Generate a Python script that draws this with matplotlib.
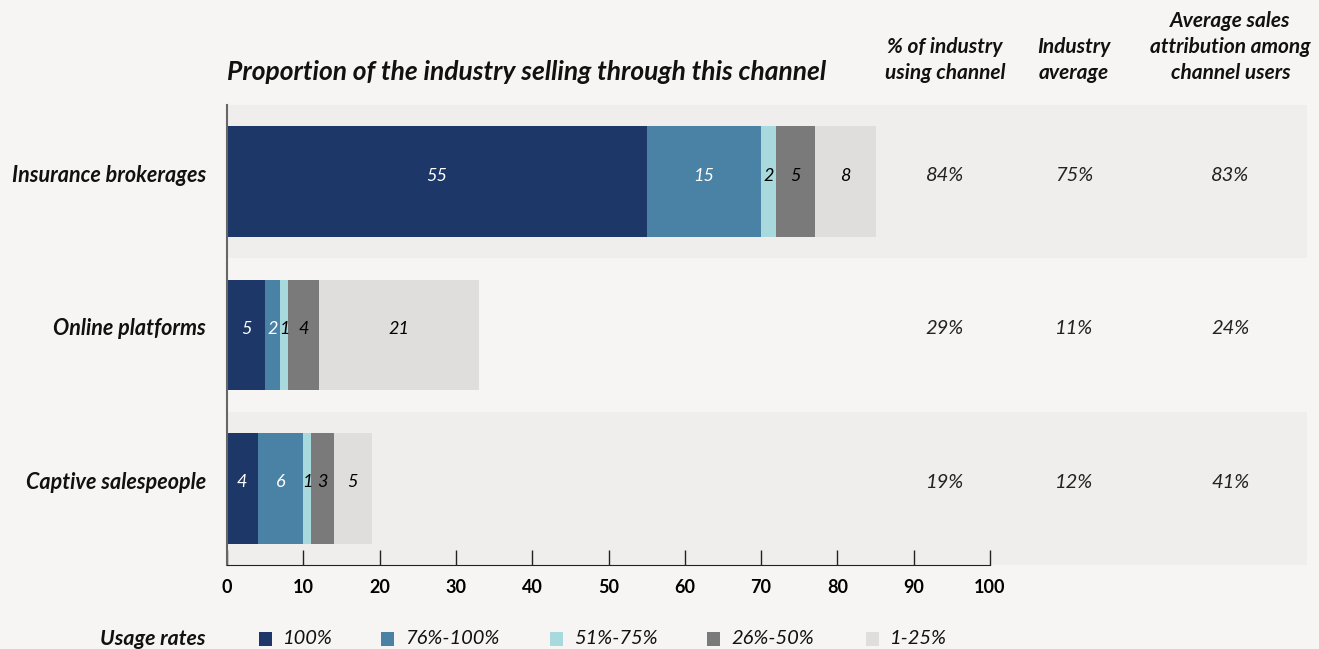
import matplotlib.pyplot as plt
from matplotlib.patches import Rectangle

plt.rcParams['font.family'] = ['Lato', 'DejaVu Sans']

channels = ["Insurance brokerages", "Online platforms", "Captive salespeople"]
usage_bins = ["100%", "76%-100%", "51%-75%", "26%-50%", "1-25%"]
shares = [
    [55, 15, 2, 5, 8],
    [5, 2, 1, 4, 21],
    [4, 6, 1, 3, 5],
]
pct_using = ["84%", "29%", "19%"]
industry_avg = ["75%", "11%", "12%"]
attribution = ["83%", "24%", "41%"]
col_headers = ["% of industry\nusing channel", "Industry\naverage",
               "Average sales\nattribution among\nchannel users"]

colors = ["#1c3768", "#4a82a5", "#a8dadd", "#7a7a7a", "#dfdedc"]
text_colors = ["white", "white", "black", "black", "black"]
bg = "#f6f5f3"
band = "#efeeec"

W, H = 1319, 649
fig = plt.figure(figsize=(W / 100, H / 100), dpi=100, facecolor=bg)
ax = fig.add_axes([227 / W, 84 / H, 1080 / W, 460 / H])
ax.set_facecolor(bg)
xmax = 1080 / 7.63
ax.set_xlim(0, xmax)
ax.set_ylim(2.5, -0.5)

# shaded bands behind alternating rows
for i in range(len(channels)):
    if i % 2 == 0:
        ax.add_patch(Rectangle((0, i - 0.5), xmax, 1, facecolor=band,
                               edgecolor="none", zorder=0))

dy = -0.04  # text sits a touch above the bar centre
for i, row in enumerate(shares):
    left = 0
    for j, v in enumerate(row):
        ax.barh(i, v, left=left, height=0.72, color=colors[j], zorder=2)
        ax.text(left + v / 2, i + dy, str(v), ha="center", va="center",
                fontsize=13, style="italic", color=text_colors[j], zorder=3)
        left += v
    # row label to the left of the axis
    ax.text(-21 / 7.63, i + dy, channels[i], ha="right", va="center",
            fontsize=15.5, style="italic", fontweight="bold", color="#111111")

# side table
col_x = [94.1, 111.0, 131.5]
for k, vals in enumerate([pct_using, industry_avg, attribution]):
    for i, v in enumerate(vals):
        ax.text(col_x[k], i + dy, v, ha="center", va="center", fontsize=14.5,
                style="italic", color="#222222")
    lines = col_headers[k].split("\n")
    for n, line in enumerate(reversed(lines)):
        fig.text((227 + col_x[k] * 7.63) / W, 1 - (73 - 26 * n) / H, line,
                 ha="center", va="center", fontsize=15, style="italic",
                 fontweight="bold", color="#111111")

ax.set_yticks([])
ax.set_xticks(range(0, 101, 10))
ax.tick_params(axis="x", direction="in", length=11, width=1, color="#222222",
               labelsize=13, pad=10)
for lbl in ax.get_xticklabels():
    lbl.set_fontweight("bold")

for s in ["top", "right"]:
    ax.spines[s].set_visible(False)
ax.spines["bottom"].set_bounds(0, 100)
ax.spines["bottom"].set_color("#222222")
ax.spines["left"].set_color("#666666")
ax.spines["left"].set_linewidth(1.5)

fig.text(227 / W, 1 - 72 / H, "Proportion of the industry selling through this channel",
         ha="left", va="center", fontsize=19, style="italic", fontweight="bold",
         color="#111111")

# legend row
ly = 1 - 639 / H
fig.text(206 / W, ly, "Usage rates", ha="right", va="center", fontsize=15.3,
         style="italic", fontweight="bold", color="#111111")
sq_x = [259, 381, 550, 707, 866]
for x, c, lab in zip(sq_x, colors, usage_bins):
    fig.patches.append(Rectangle((x / W, ly - 7 / H), 13 / W, 14 / H,
                                 facecolor=c, edgecolor="none",
                                 transform=fig.transFigure, figure=fig))
    fig.text((x + 24) / W, ly, lab, ha="left", va="center", fontsize=14.5,
             style="italic", color="#111111")

fig.savefig("out.png", dpi=100, facecolor=bg)
